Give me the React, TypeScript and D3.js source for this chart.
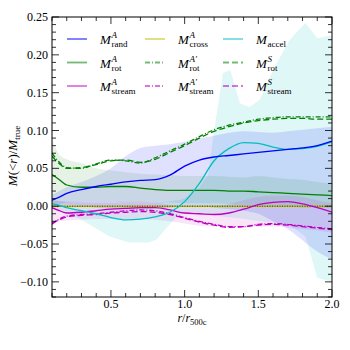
import React from 'react';
import * as d3 from 'd3';

const R = [0.1, 0.15, 0.2, 0.3, 0.4, 0.5, 0.6, 0.7, 0.8, 0.9, 1.0, 1.1, 1.2, 1.3, 1.4, 1.5, 1.6, 1.7, 1.8, 1.9, 2.0];

const randA = [0.008, 0.012, 0.017, 0.022, 0.026, 0.029, 0.032, 0.034, 0.035, 0.041, 0.053, 0.061, 0.065, 0.067, 0.069, 0.071, 0.073, 0.075, 0.077, 0.080, 0.086];
const randUp = [0.015, 0.02, 0.025, 0.032, 0.04, 0.05, 0.066, 0.077, 0.080, 0.082, 0.085, 0.089, 0.093, 0.097, 0.099, 0.098, 0.097, 0.099, 0.101, 0.103, 0.105];
const randLo = [0.002, 0.002, 0.002, 0.0, -0.002, -0.003, -0.004, -0.004, -0.003, -0.002, 0.0, 0.0, -0.002, -0.004, -0.006, -0.01, -0.02, -0.03, -0.045, -0.06, -0.07];

const accel = [0.003, 0.001, -0.002, -0.006, -0.010, -0.015, -0.018, -0.017, -0.014, -0.008, 0.006, 0.030, 0.060, 0.076, 0.084, 0.083, 0.078, 0.075, 0.076, 0.079, 0.085];
const accelBandR = [0.1, 0.2, 0.3, 0.49, 0.62, 0.76, 0.81, 0.87, 0.96, 1.0, 1.1, 1.16, 1.2, 1.26, 1.31, 1.375, 1.44, 1.51, 1.6, 1.71, 1.75, 1.82, 1.9, 2.0];
const accelUp = [0.008, 0.006, 0.005, 0.004, 0.004, 0.004, 0.005, 0.006, 0.008, 0.01, 0.025, 0.042, 0.10, 0.176, 0.18, 0.136, 0.131, 0.141, 0.18, 0.219, 0.228, 0.242, 0.222, 0.226];
const accelLo = [0.0, -0.01, -0.018, -0.04, -0.048, -0.048, -0.044, -0.03, -0.011, -0.01, -0.01, -0.011, -0.012, -0.014, -0.015, -0.016, -0.018, -0.02, -0.022, -0.025, -0.03, -0.04, -0.095, -0.10];

const rotA = [0.042, 0.035, 0.028, 0.025, 0.025, 0.026, 0.026, 0.024, 0.022, 0.021, 0.021, 0.021, 0.021, 0.020, 0.020, 0.019, 0.018, 0.017, 0.016, 0.015, 0.014];
const rotUp = [0.088, 0.068, 0.062, 0.057, 0.050, 0.047, 0.045, 0.043, 0.042, 0.041, 0.040, 0.040, 0.040, 0.039, 0.038, 0.040, 0.038, 0.036, 0.035, 0.032, 0.030];
const rotLo = [0.0, 0.003, 0.005, 0.006, 0.006, 0.006, 0.005, 0.005, 0.005, 0.005, 0.004, 0.004, 0.004, 0.003, 0.002, 0.002, 0.0, 0.0, -0.002, -0.002, -0.003];
const rotAp = [0.070, 0.058, 0.051, 0.050, 0.056, 0.061, 0.060, 0.057, 0.064, 0.073, 0.082, 0.092, 0.101, 0.107, 0.111, 0.115, 0.117, 0.118, 0.118, 0.118, 0.118];
const rotS = [0.066, 0.056, 0.050, 0.051, 0.055, 0.060, 0.061, 0.058, 0.062, 0.071, 0.080, 0.090, 0.099, 0.105, 0.110, 0.113, 0.115, 0.116, 0.116, 0.115, 0.115];

const streamA = [-0.002, -0.006, -0.009, -0.008, -0.006, -0.004, -0.003, -0.002, -0.002, -0.005, -0.009, -0.010, -0.011, -0.009, -0.004, 0.002, 0.005, 0.006, 0.003, -0.002, -0.008];
const streamUp = [0.008, 0.007, 0.006, 0.006, 0.006, 0.006, 0.006, 0.006, 0.005, 0.002, 0.0, 0.0, 0.0, 0.003, 0.008, 0.012, 0.014, 0.014, 0.012, 0.008, 0.004];
const streamLo = [-0.020, -0.020, -0.019, -0.018, -0.017, -0.017, -0.017, -0.017, -0.018, -0.020, -0.023, -0.026, -0.027, -0.027, -0.027, -0.027, -0.027, -0.028, -0.03, -0.032, -0.035];
const streamAp = [-0.024, -0.017, -0.013, -0.011, -0.010, -0.008, -0.006, -0.005, -0.006, -0.010, -0.015, -0.020, -0.024, -0.027, -0.027, -0.024, -0.023, -0.024, -0.026, -0.028, -0.030];
const streamS = [-0.022, -0.018, -0.014, -0.012, -0.011, -0.009, -0.008, -0.007, -0.008, -0.011, -0.016, -0.021, -0.025, -0.028, -0.027, -0.025, -0.024, -0.025, -0.027, -0.029, -0.031];

const crossA = R.map(() => 0);

const xTickLabels = ['0.5', '1.0', '1.5', '2.0'];
const yTickLabels = ['0.25', '0.20', '0.15', '0.10', '0.05', '0.00', '\u22120.05', '\u22120.10'];

const C = { b: '#0000ff', g: '#008000', m: '#bf00bf', c: '#00bfbf', y: '#bfbf00' };
const FONT = 'Liberation Serif, DejaVu Serif, serif';

const legendItems = [
  { sup: 'A', sub: 'rand', color: C.b, dash: '' },
  { sup: 'A', sub: 'cross', color: C.y, dash: '' },
  { sup: '', sub: 'accel', color: C.c, dash: '' },
  { sup: 'A', sub: 'rot', color: C.g, dash: '' },
  { sup: "A\u2032", sub: 'rot', color: C.g, dash: '5,2,1,2' },
  { sup: 'S', sub: 'rot', color: C.g, dash: '6,3' },
  { sup: 'A', sub: 'stream', color: C.m, dash: '' },
  { sup: "A\u2032", sub: 'stream', color: C.m, dash: '5,2,1,2' },
  { sup: 'S', sub: 'stream', color: C.m, dash: '6,3' },
];

export default function App() {
  const L = 52, Rt = 332, T = 17, B = 297;
  const x = d3.scaleLinear().domain([0.1, 2.0]).range([L, Rt]);
  const y = d3.scaleLinear().domain([-0.12, 0.25]).range([B, T]);

  const line = (vals: number[], rs: number[] = R) =>
    d3.line<number>().x((_, i) => x(rs[i])).y((d) => y(d)).curve(d3.curveMonotoneX)(vals) || '';
  const area = (lo: number[], up: number[], rs: number[] = R, curve: any = d3.curveMonotoneX) =>
    d3.area<number>().x((_, i) => x(rs[i])).y0((_, i) => y(lo[i])).y1((d) => y(d)).curve(curve)(up) || '';

  const xMinor = d3.range(1, 21).map((i) => i / 10);
  const yMinor = d3.range(-12, 26).map((i) => i / 100);

  const lw = 1.3;

  return (
    <svg width={350} height={350} style={{ position: 'absolute', left: 0, top: 0, background: '#fff' }} fontFamily={FONT}>
      <defs>
        <clipPath id="plot">
          <rect x={L} y={T} width={Rt - L} height={B - T} />
        </clipPath>
      </defs>
      <g clipPath="url(#plot)">
        <path d={area(accelLo, accelUp, accelBandR, d3.curveLinear)} fill={C.c} fillOpacity={0.12} />
        <path d={area(randLo, randUp)} fill={C.b} fillOpacity={0.12} />
        <path d={area(rotLo, rotUp)} fill={C.g} fillOpacity={0.1} />
        <path d={area(streamLo, streamUp)} fill={C.m} fillOpacity={0.1} />

        <path d={line(crossA)} fill="none" stroke={C.y} strokeWidth={1.5} />
        <path d={line(crossA)} fill="none" stroke="#000" strokeWidth={0.7} strokeDasharray="1,1.5" />
        <path d={line(rotAp)} fill="none" stroke={C.g} strokeWidth={lw} strokeDasharray="5,2,1,2" />
        <path d={line(rotS)} fill="none" stroke={C.g} strokeWidth={lw} strokeDasharray="6,3" />
        <path d={line(streamAp)} fill="none" stroke={C.m} strokeWidth={lw} strokeDasharray="5,2,1,2" />
        <path d={line(streamS)} fill="none" stroke={C.m} strokeWidth={lw} strokeDasharray="6,3" />
        <path d={line(rotA)} fill="none" stroke={C.g} strokeWidth={lw} />
        <path d={line(streamA)} fill="none" stroke={C.m} strokeWidth={lw} />
        <path d={line(accel)} fill="none" stroke={C.c} strokeWidth={lw} />
        <path d={line(randA)} fill="none" stroke={C.b} strokeWidth={lw} />
      </g>

      {/* ticks */}
      <g stroke="#000" strokeWidth={0.8}>
        {xMinor.map((v) => {
          const major = Math.abs(v * 2 - Math.round(v * 2)) < 1e-6;
          const len = major ? 7 : 4;
          const px = x(v);
          return (
            <g key={'xt' + v}>
              <line x1={px} x2={px} y1={B} y2={B - len} />
              <line x1={px} x2={px} y1={T} y2={T + len} />
            </g>
          );
        })}
        {yMinor.map((v) => {
          const major = Math.abs(v * 20 - Math.round(v * 20)) < 1e-6;
          const len = major ? 7 : 4;
          const py = y(v);
          return (
            <g key={'yt' + v}>
              <line x1={L} x2={L + len} y1={py} y2={py} />
              <line x1={Rt} x2={Rt - len} y1={py} y2={py} />
            </g>
          );
        })}
      </g>
      <rect x={L} y={T} width={Rt - L} height={B - T} fill="none" stroke="#000" strokeWidth={1} />

      {/* tick labels */}
      {xTickLabels.map((t) => (
        <text key={'xl' + t} x={x(+t)} y={308} textAnchor="middle" fontSize={12}>{t}</text>
      ))}
      {yTickLabels.map((t) => (
        <text key={'yl' + t} x={48} y={y(+t.replace('\u2212', '-')) + 4} textAnchor="end" fontSize={12}>{t}</text>
      ))}

      {/* axis labels */}
      <text x={192} y={322} textAnchor="middle" fontSize={12}>
        <tspan fontStyle="italic">r</tspan>
        <tspan>/</tspan>
        <tspan fontStyle="italic">r</tspan>
        <tspan fontSize={8.5} dy={2.5}>500c</tspan>
      </text>
      <text transform="translate(17,156) rotate(-90)" textAnchor="middle" fontSize={13}>
        <tspan fontStyle="italic">M</tspan>
        <tspan>(&lt;</tspan>
        <tspan fontStyle="italic">r</tspan>
        <tspan>)/</tspan>
        <tspan fontStyle="italic">M</tspan>
        <tspan fontSize={9} dy={3}>true</tspan>
      </text>

      {/* legend */}
      {legendItems.map((it, i) => {
        const col = i % 3, row = Math.floor(i / 3);
        const sx = 67 + col * 78;
        const cy = 39 + row * 23.5;
        const tx = sx + 33;
        return (
          <g key={'lg' + i}>
            <line x1={sx} x2={sx + 20} y1={cy} y2={cy} stroke={it.color} strokeOpacity={0.55} strokeWidth={1.8} strokeDasharray={it.dash || undefined} />
            <text x={tx} y={cy + 5} fontSize={13} fontStyle="italic">M</text>
            {it.sup && <text x={tx + 11.5} y={cy - 1} fontSize={9} fontStyle="italic">{it.sup}</text>}
            <text x={tx + 11.5} y={cy + 8} fontSize={9}>{it.sub}</text>
          </g>
        );
      })}
    </svg>
  );
}
